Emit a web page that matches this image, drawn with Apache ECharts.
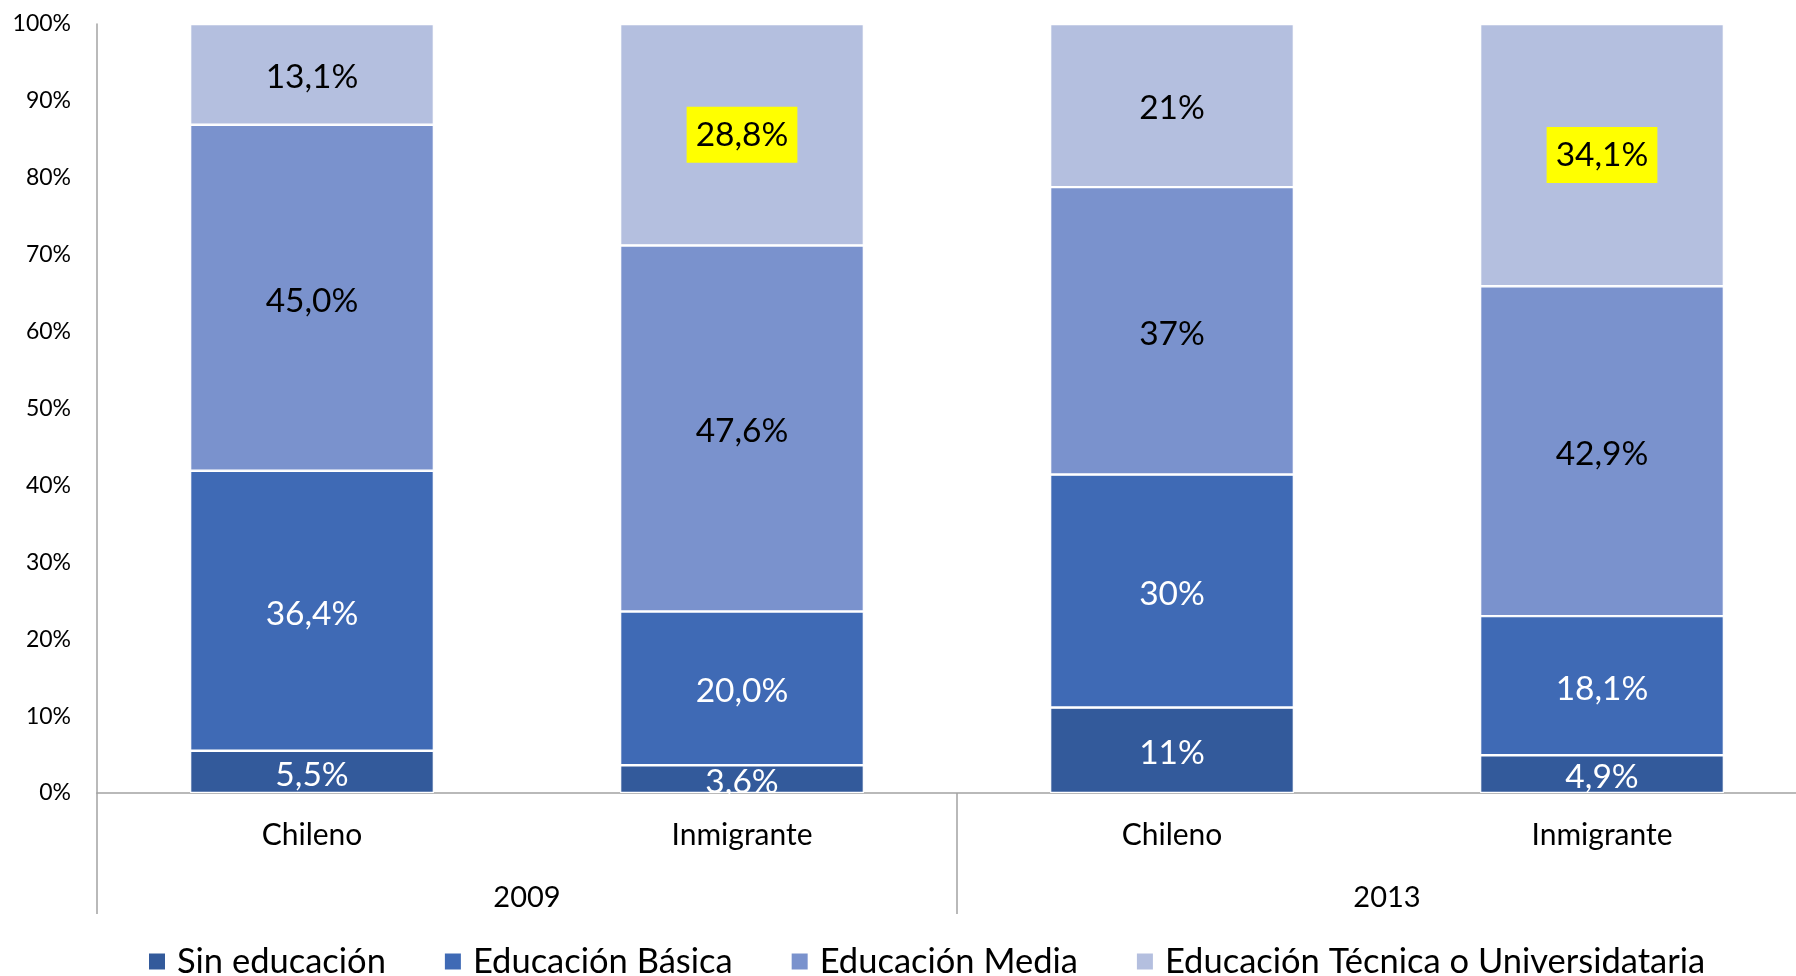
<!DOCTYPE html>
<html lang="es">
<head>
<meta charset="utf-8">
<title>Nivel educativo: chilenos e inmigrantes, 2009 y 2013</title>
<script src="https://cdn.jsdelivr.net/npm/echarts@6/dist/echarts.min.js"></script>
<style>
  html, body { margin: 0; padding: 0; background: #fff; }
  #chart { width: 1796px; height: 976px; }
</style>
</head>
<body>
<div id="chart"></div>
<script>
// Grupos del eje X
const categorias = ['Chileno', 'Inmigrante', 'Chileno', 'Inmigrante'];
const anios = ['2009', '2013'];

// Porcentajes por nivel educativo (en el orden de las categorías)
const sinEducacion = [5.5, 3.6, 11, 4.9];
const educacionBasica = [36.4, 20.0, 30, 18.1];
const educacionMedia = [45.0, 47.6, 37, 42.9];
const educacionTecnica = [13.1, 28.8, 21, 34.1];

// Decimales mostrados en las etiquetas de cada categoría
const decimales = [1, 1, 0, 1];

// Etiquetas resaltadas: [serie, categoría]
const resaltados = [[3, 1], [3, 3]];

const nombresSeries = ['Sin educación', 'Educación Básica', 'Educación Media', 'Educación Técnica o Universidataria'];
const valoresSeries = [sinEducacion, educacionBasica, educacionMedia, educacionTecnica];
const colores = ['#335a9b', '#3f6ab5', '#7a92cd', '#b4bfdf'];
const coloresTexto = ['#ffffff', '#ffffff', '#000000', '#000000'];

const ticksY = [0, 10, 20, 30, 40, 50, 60, 70, 80, 90, 100];

const FUENTE = 'Lato, "Noto Sans", sans-serif';
const GRIS = '#a3a3a3';

// Columnas apiladas al 100 %: cada valor se expresa sobre el total de su columna
const totales = categorias.map((_, j) => valoresSeries.reduce((s, serie) => s + serie[j], 0));

function formatoPct(v, d) {
  return v.toFixed(d).replace('.', ',') + '%';
}

const series = valoresSeries.map((serie, i) => ({
  name: nombresSeries[i],
  type: 'bar',
  stack: 'total',
  xAxisIndex: 0,
  barWidth: '56.7%',
  itemStyle: { color: colores[i], borderColor: '#ffffff', borderWidth: 1.2 },
  emphasis: { disabled: true },
  label: {
    show: true,
    position: 'inside',
    color: coloresTexto[i],
    fontFamily: FUENTE,
    fontSize: 33.5,
    offset: [0, 3],
    formatter: p => formatoPct(serie[p.dataIndex], decimales[p.dataIndex])
  },
  data: serie.map((v, j) => {
    const item = { value: v / totales[j] * 100 };
    if (resaltados.some(r => r[0] === i && r[1] === j)) {
      item.label = { backgroundColor: '#ffff00', padding: [14, 9, 8, 9], offset: [0, 0] };
    }
    return item;
  })
}));

const chart = echarts.init(document.getElementById('chart'), null, { renderer: 'canvas' });

chart.setOption({
  animation: false,
  backgroundColor: '#ffffff',
  textStyle: { fontFamily: FUENTE },
  // La última categoría continúa más allá del borde derecho del lienzo
  grid: { left: 97, top: 24, width: 1720, bottom: 183, containLabel: false, outerBoundsMode: 'none' },
  legend: {
    left: 147,
    top: 944,
    padding: 0,
    itemWidth: 18,
    itemHeight: 18,
    itemGap: 57,
    icon: 'rect',
    selectedMode: false,
    textStyle: { fontFamily: FUENTE, fontSize: 34.5, color: '#000', padding: [0, 0, 0, 6] },
    data: nombresSeries
  },
  xAxis: [
    {
      type: 'category',
      data: categorias,
      position: 'bottom',
      axisLine: { show: true, lineStyle: { color: GRIS, width: 1.5 } },
      axisTick: { show: false },
      axisLabel: { color: '#000', fontFamily: FUENTE, fontSize: 30, margin: 27 }
    },
    {
      type: 'category',
      data: anios,
      position: 'bottom',
      axisLine: { show: false },
      axisTick: { show: true, length: 121, interval: 0, lineStyle: { color: GRIS, width: 1.5 } },
      axisLabel: { color: '#000', fontFamily: FUENTE, fontSize: 29, margin: 90 }
    }
  ],
  yAxis: {
    type: 'value',
    min: ticksY[0],
    max: ticksY[ticksY.length - 1],
    interval: 10,
    axisLine: { show: true, lineStyle: { color: GRIS, width: 1.5 } },
    axisTick: { show: false },
    splitLine: { show: false },
    axisLabel: { color: '#000', fontFamily: FUENTE, fontSize: 23, margin: 26, formatter: '{value}%' }
  },
  series: series
});
</script>
</body>
</html>
